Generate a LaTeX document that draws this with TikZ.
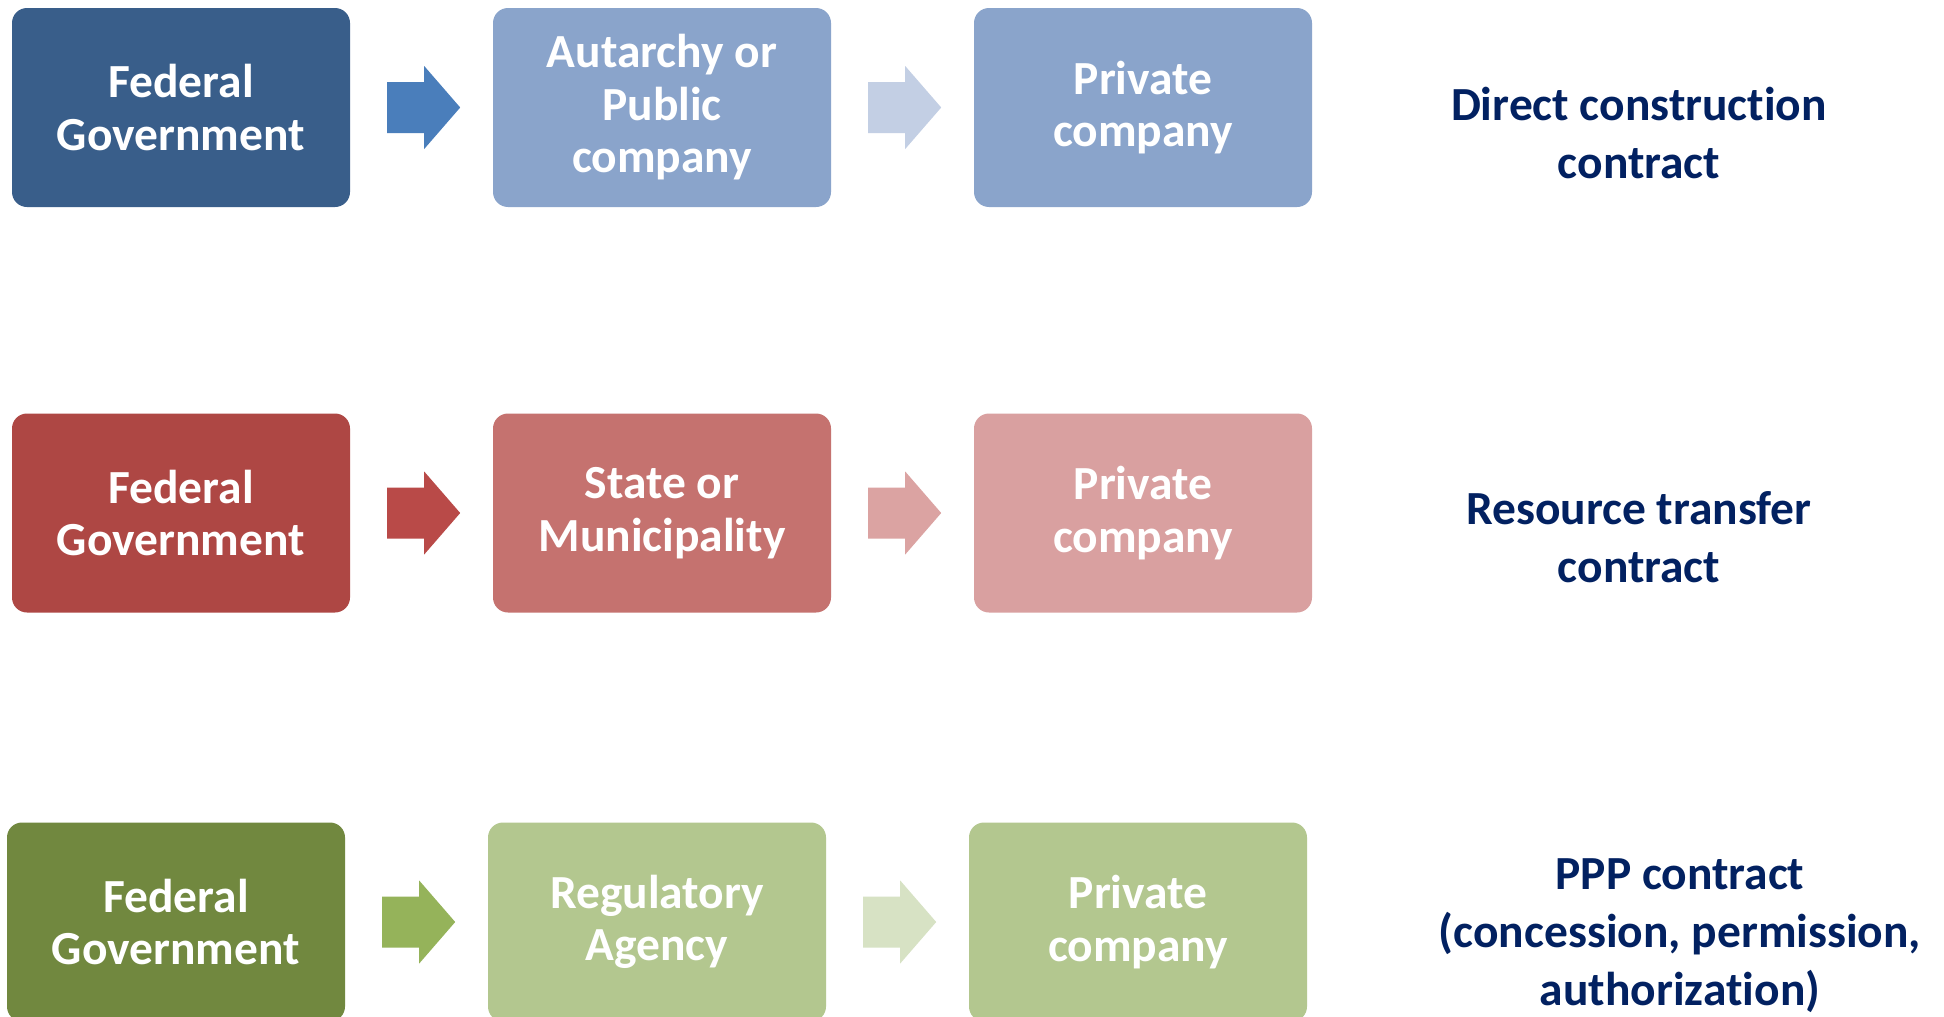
\documentclass[tikz,border=0pt]{standalone}
\usepackage{fontspec}
\setmainfont{Carlito}[Ligatures=NoCommon]
\usetikzlibrary{calc}
\definecolor{bDark}{HTML}{395E8A}
\definecolor{bArrA}{HTML}{4A7EBB}
\definecolor{bLight}{HTML}{8AA4CB}
\definecolor{bArrB}{HTML}{C3CFE4}
\definecolor{rDark}{HTML}{AE4744}
\definecolor{rArrA}{HTML}{B94A48}
\definecolor{rMid}{HTML}{C5726F}
\definecolor{rArrB}{HTML}{DBA3A2}
\definecolor{rLight}{HTML}{D9A0A0}
\definecolor{gDark}{HTML}{71883F}
\definecolor{gArrA}{HTML}{95B35A}
\definecolor{gLight}{HTML}{B3C78F}
\definecolor{gArrB}{HTML}{D7E2C4}
\definecolor{navy}{HTML}{022161}
\tikzset{
  x=1pt, y=1pt,
  stagebox/.style={rectangle, rounded corners=15pt, minimum width=338pt, minimum height=199pt,
    inner sep=0pt, align=center, text=white,
    font=\fontsize{47.5}{52.5}\selectfont\bfseries},
  contractlabel/.style={align=center, text=navy, inner sep=0pt,
    font=\fontsize{47.5}{58}\selectfont\bfseries},
}
% block arrow starting 37pt right of the east anchor of a box
\newcommand{\blockarrow}[2]{%
  \fill[#2] ($(#1.east)+(37,25.5)$) -- ++(37,0) -- ++(0,16) -- ++(36,-41.5)
     -- ++(-36,-41.5) -- ++(0,16) -- ++(-37,0) -- cycle;}
\begin{document}
\begin{tikzpicture}
\useasboundingbox[fill=white] (0,0) rectangle (1944,-1017);
% row 1
\node[stagebox, fill=bDark]  (a1) at (181,-107.5) {Federal\\Government};
\node[stagebox, fill=bLight] (a2) at (662,-107.5) {Autarchy or\\Public\\company};
\node[stagebox, fill=bLight] (a3) at (1143,-107.5) {Private\\company};
\blockarrow{a1}{bArrA}
\blockarrow{a2}{bArrB}
\node[contractlabel] (t1) at (1639,-133) {Direct construction\\contract};
% row 2
\node[stagebox, fill=rDark]  (b1) at (181,-513) {Federal\\Government};
\node[stagebox, fill=rMid]   (b2) at (662,-513) {State or\\Municipality};
\node[stagebox, fill=rLight] (b3) at (1143,-513) {Private\\company};
\blockarrow{b1}{rArrA}
\blockarrow{b2}{rArrB}
\node[contractlabel] (t2) at (1639,-537.5) {Resource transfer\\contract};
% row 3
\node[stagebox, fill=gDark]  (c1) at (176,-922) {Federal\\Government};
\node[stagebox, fill=gLight] (c2) at (657,-922) {Regulatory\\Agency};
\node[stagebox, fill=gLight] (c3) at (1138,-922) {Private\\company};
\blockarrow{c1}{gArrA}
\blockarrow{c2}{gArrB}
\node[contractlabel] (t3) at (1680,-936) {PPP contract\\(concession, permission,\\authorization)};
\end{tikzpicture}
\end{document}
